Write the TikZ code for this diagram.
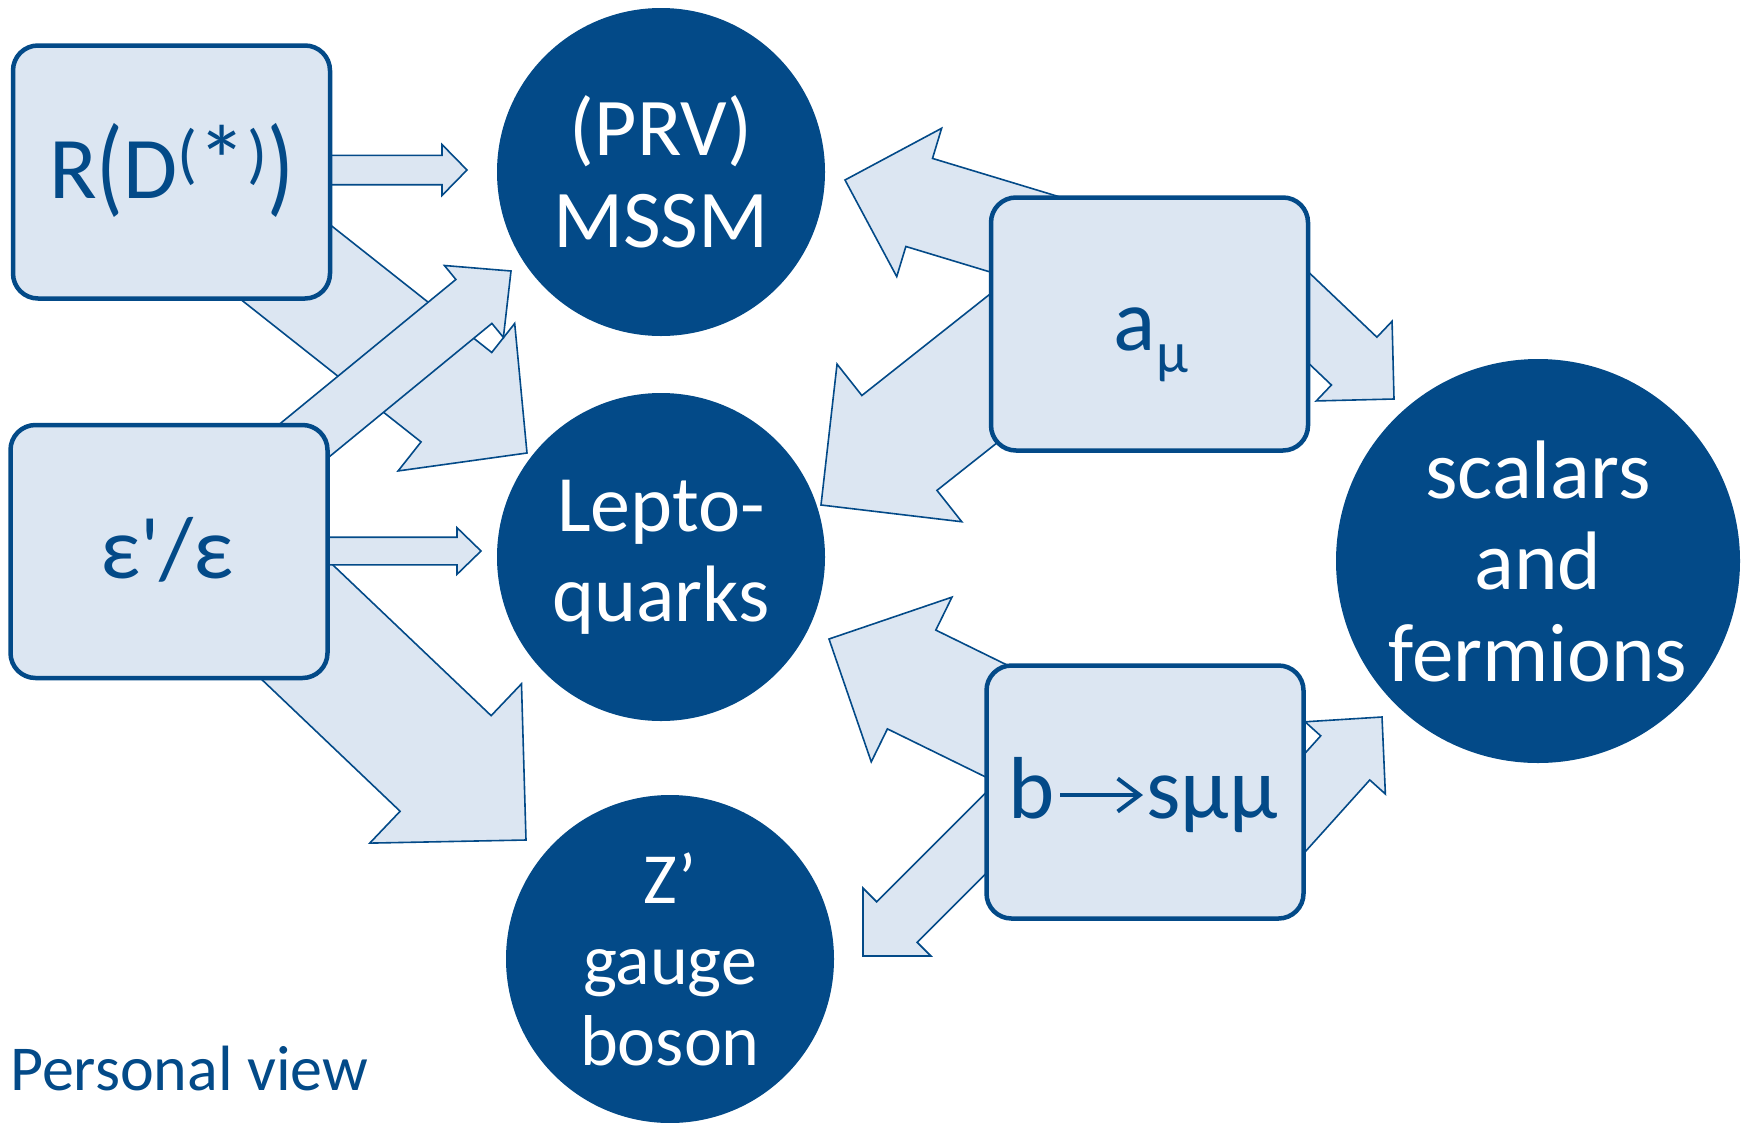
\documentclass[tikz,border=0pt]{standalone}
\usepackage{fontspec}
\setmainfont{Carlito}
\newfontfamily\straightquote{Carlito}[Ligatures=TeXOff]
\usetikzlibrary{calc,arrows.meta,backgrounds}
\definecolor{dblue}{RGB}{3,74,136}
\definecolor{lblue}{RGB}{220,230,242}

% block arrow: #1 start, #2 tip, #3 shaft half-width, #4 head half-width, #5 head length
\newcommand\blockarrow[5]{%
  \coordinate (ba-base) at ($(#2)!#5!(#1)$);
  \filldraw[blockshape]
    ($(#1)!#3!90:(#2)$) -- ($(ba-base)!#3!90:(#2)$) -- ($(ba-base)!#4!90:(#2)$) -- (#2)
    -- ($(ba-base)!#4!-90:(#2)$) -- ($(ba-base)!#3!-90:(#2)$) -- ($(#1)!#3!-90:(#2)$) -- cycle;%
}
% taller parentheses and a larger star for the R(D(*)) label
\newcommand\tallparen[1]{\raisebox{-4pt}{\scalebox{1}[1.23]{#1}}}
\newcommand\bigstar{\raisebox{-19pt}{\scalebox{1.5}{*}}}

\begin{document}
\begin{tikzpicture}[x=1pt,y=-1pt,
  blockshape/.style={fill=lblue, draw=dblue, line width=1.6pt, line join=miter},
  obsbox/.style={rectangle, draw=dblue, line width=4.5pt, fill=lblue, rounded corners=25pt,
    minimum width=317pt, minimum height=253pt, inner sep=0pt},
  boxtext/.style={inner sep=0pt, text=dblue, font=\fontsize{88}{100}\selectfont},
  bigdisc/.style={circle, fill=dblue, minimum size=328pt, inner sep=0pt, text=white,
    align=center, font=\fontsize{82}{92}\selectfont},
  symarrow/.style={draw=dblue, line width=4pt, -{Straight Barb[length=22pt,width=33pt]}}
]
\useasboundingbox (0,0) rectangle (1744,1122);

% observables
\node[obsbox] (rd)   at (171.5,172)  {};
\node[obsbox] (eps)  at (169,551.5)  {};
\node[obsbox] (amu)  at (1149.5,324) {};
\node[obsbox] (bsmm) at (1145,792)   {};

\node[boxtext, anchor=base] (rdtext) at (171.5,198)
  {R\tallparen{(}D\raisebox{22pt}{\fontsize{66}{66}\selectfont(\bigstar)}\tallparen{)}};
\node[boxtext, anchor=base] (epstext) at (167,578) {\straightquote ε'/ε};
\node[boxtext, anchor=base] (amutext) at (1151,350)
  {a\raisebox{-22pt}{\fontsize{58}{58}\selectfont μ}};
\node[boxtext, anchor=base east] (bsb) at (1055,818) {b};
\node[boxtext, anchor=base west] (bss) at (1146,818) {sμμ};
\draw[symarrow] ($(bsb.base east)+(5,-23)$) -- ($(bss.base west)+(-3,-23)$);

% models
\node[bigdisc] (mssm) at (661,172) {(PRV)\\MSSM};
\node[bigdisc, font=\fontsize{80}{90}\selectfont] (lq) at (661,557) {Lepto-\\quarks};
\node[bigdisc, font=\fontsize{72}{81}\selectfont] (zp) at (670,959) {Z’\\gauge\\boson};
\node[bigdisc, minimum size=404pt, font=\fontsize{83}{91.5}\selectfont] (sf) at (1538,561)
  {scalars\\and\\fermions};

\node[anchor=base west, inner sep=0pt, text=dblue, font=\fontsize{64}{70}\selectfont]
  (pv) at (10,1090) {Personal view};

\begin{scope}[on background layer]
  \fill[white] (0,0) rectangle (1744,1122);
  % from R(D(*))
  \coordinate (s1) at ($(rd.center)+(0,-2)$);  \coordinate (e1) at (467,170);
  \blockarrow{s1}{e1}{14.7pt}{25.5pt}{25pt}
  \coordinate (e2) at (527,453);
  \blockarrow{rd.center}{e2}{57pt}{94pt}{90pt}
  % from eps'/eps
  \coordinate (e3) at (511,271);
  \blockarrow{eps.center}{e3}{28.4pt}{46.5pt}{48pt}
  \coordinate (s5) at ($(eps.center)+(0,-51.5)$); \coordinate (e5) at (526,840);
  \blockarrow{s5}{e5}{66pt}{110pt}{111pt}
  \coordinate (s4) at ($(eps.center)+(0,-0.5)$); \coordinate (e4) at (481,551);
  \blockarrow{s4}{e4}{13.8pt}{23.3pt}{24pt}
  % from a_mu
  \coordinate (s7) at ($(amu.center)+(-0.5,-52)$); \coordinate (e7) at (845,180);
  \blockarrow{s7}{e7}{46pt}{77.5pt}{77.5pt}
  \coordinate (s8) at ($(amu.center)+(-69.5,-24)$); \coordinate (e8) at (821,505);
  \blockarrow{s8}{e8}{60.5pt}{100.5pt}{100pt}
  \coordinate (s9) at ($(amu.center)+(100.5,-62)$); \coordinate (e9) at (1394,399);
  \blockarrow{s9}{e9}{33pt}{55pt}{55pt}
  % from b -> s mu mu
  \coordinate (s10) at ($(bsmm.center)+(-65,-30)$); \coordinate (e10) at (829,639);
  \blockarrow{s10}{e10}{55pt}{91.7pt}{92pt}
  \coordinate (s11) at ($(bsmm.center)+(-65,-53)$); \coordinate (e11) at (863,956);
  \blockarrow{s11}{e11}{28.6pt}{48pt}{48pt}
  \coordinate (s12) at ($(bsmm.center)+(85,94)$); \coordinate (e12) at (1382,717);
  \blockarrow{s12}{e12}{33pt}{54pt}{55pt}
\end{scope}
\end{tikzpicture}
\end{document}
